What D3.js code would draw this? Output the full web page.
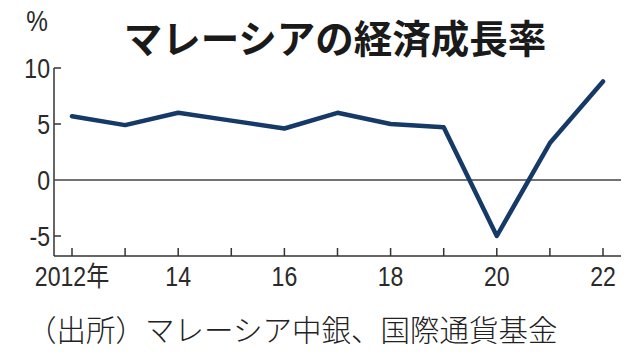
<!DOCTYPE html>
<html>
<head>
<meta charset="utf-8">
<script src="https://cdn.jsdelivr.net/npm/d3@7"></script>
<style>
html, body { margin: 0; padding: 0; background: #fff; }
svg { display: block; }
.tick-label { font-family: "Liberation Sans", "Noto Sans CJK JP", sans-serif; font-size: 27.5px; fill: #2a2a2a; }
</style>
</head>
<body>
<svg id="chart" width="638" height="360"></svg>
<script>
const years = [2012, 2013, 2014, 2015, 2016, 2017, 2018, 2019, 2020, 2021, 2022];
const growth = [5.7, 4.9, 6.0, 5.3, 4.6, 6.0, 5.0, 4.7, -5.0, 3.3, 8.8];
const yTicks = [10, 5, 0, -5];
const xTickYears = [2012, 2014, 2016, 2018, 2020, 2022];
const xTickLabels = ["2012年", "14", "16", "18", "20", "22"];
const title = "マレーシアの経済成長率";
const unitLabel = "%";
const source = "（出所）マレーシア中銀、国際通貨基金";

const svg = d3.select("#chart");
const axisColor = "#333";
const lineColor = "#163a68";
const squeeze = 0.84;

const x = d3.scaleLinear().domain([2012, 2022]).range([72, 603]);
const y = d3.scaleLinear().domain([0, 10]).range([180, 68]);
const plotLeft = 54, plotRight = 621, plotBottom = 256;

function narrowText(px, py, anchor, txt, size) {
  const t = svg.append("text")
    .attr("class", "tick-label")
    .attr("transform", `translate(${px},${py}) scale(${squeeze},1)`)
    .attr("text-anchor", anchor)
    .text(txt);
  if (size) t.style("font-size", size + "px");
  return t;
}

// title
svg.append("text")
  .attr("x", 335).attr("y", 53)
  .attr("text-anchor", "middle")
  .style("font-family", "'Noto Sans CJK JP', sans-serif")
  .style("font-weight", "700")
  .style("font-size", "38.5px")
  .style("fill", "#1a1a1a")
  .text(title);

// unit
narrowText(37, 31, "middle", unitLabel, 29);

// y axis line
svg.append("line")
  .attr("x1", plotLeft).attr("x2", plotLeft)
  .attr("y1", y(10)).attr("y2", plotBottom)
  .attr("stroke", axisColor).attr("stroke-width", 1.5);

// y ticks (inward) and labels
yTicks.forEach(v => {
  if (v !== 0) {
    svg.append("line")
      .attr("x1", plotLeft).attr("x2", plotLeft + 7)
      .attr("y1", y(v)).attr("y2", y(v))
      .attr("stroke", axisColor).attr("stroke-width", 1.5);
  }
  narrowText(plotLeft - 4, y(v) + 9.5, "end", String(v));
});

// zero line
svg.append("line")
  .attr("x1", plotLeft).attr("x2", plotRight)
  .attr("y1", y(0)).attr("y2", y(0))
  .attr("stroke", "#444").attr("stroke-width", 1.5);

// x axis line
svg.append("line")
  .attr("x1", plotLeft).attr("x2", plotRight)
  .attr("y1", plotBottom).attr("y2", plotBottom)
  .attr("stroke", axisColor).attr("stroke-width", 1.5);

// x ticks (every year, upward)
years.forEach(yr => {
  svg.append("line")
    .attr("x1", x(yr)).attr("x2", x(yr))
    .attr("y1", plotBottom).attr("y2", plotBottom - 8)
    .attr("stroke", axisColor).attr("stroke-width", 1.5);
});

// x labels
xTickYears.forEach((yr, i) => {
  narrowText(x(yr), 286, "middle", xTickLabels[i]);
});

// line
const line = d3.line().x((d, i) => x(years[i])).y(d => y(d));
svg.append("path")
  .datum(growth)
  .attr("d", line)
  .attr("fill", "none")
  .attr("stroke", lineColor)
  .attr("stroke-width", 4.5)
  .attr("stroke-linecap", "round")
  .attr("stroke-linejoin", "round");

// source
svg.append("text")
  .attr("x", 27).attr("y", 341)
  .style("font-family", "'Noto Sans CJK JP', sans-serif")
  .style("font-weight", "300")
  .style("font-size", "29.5px")
  .style("fill", "#222")
  .text(source);
</script>
</body>
</html>
